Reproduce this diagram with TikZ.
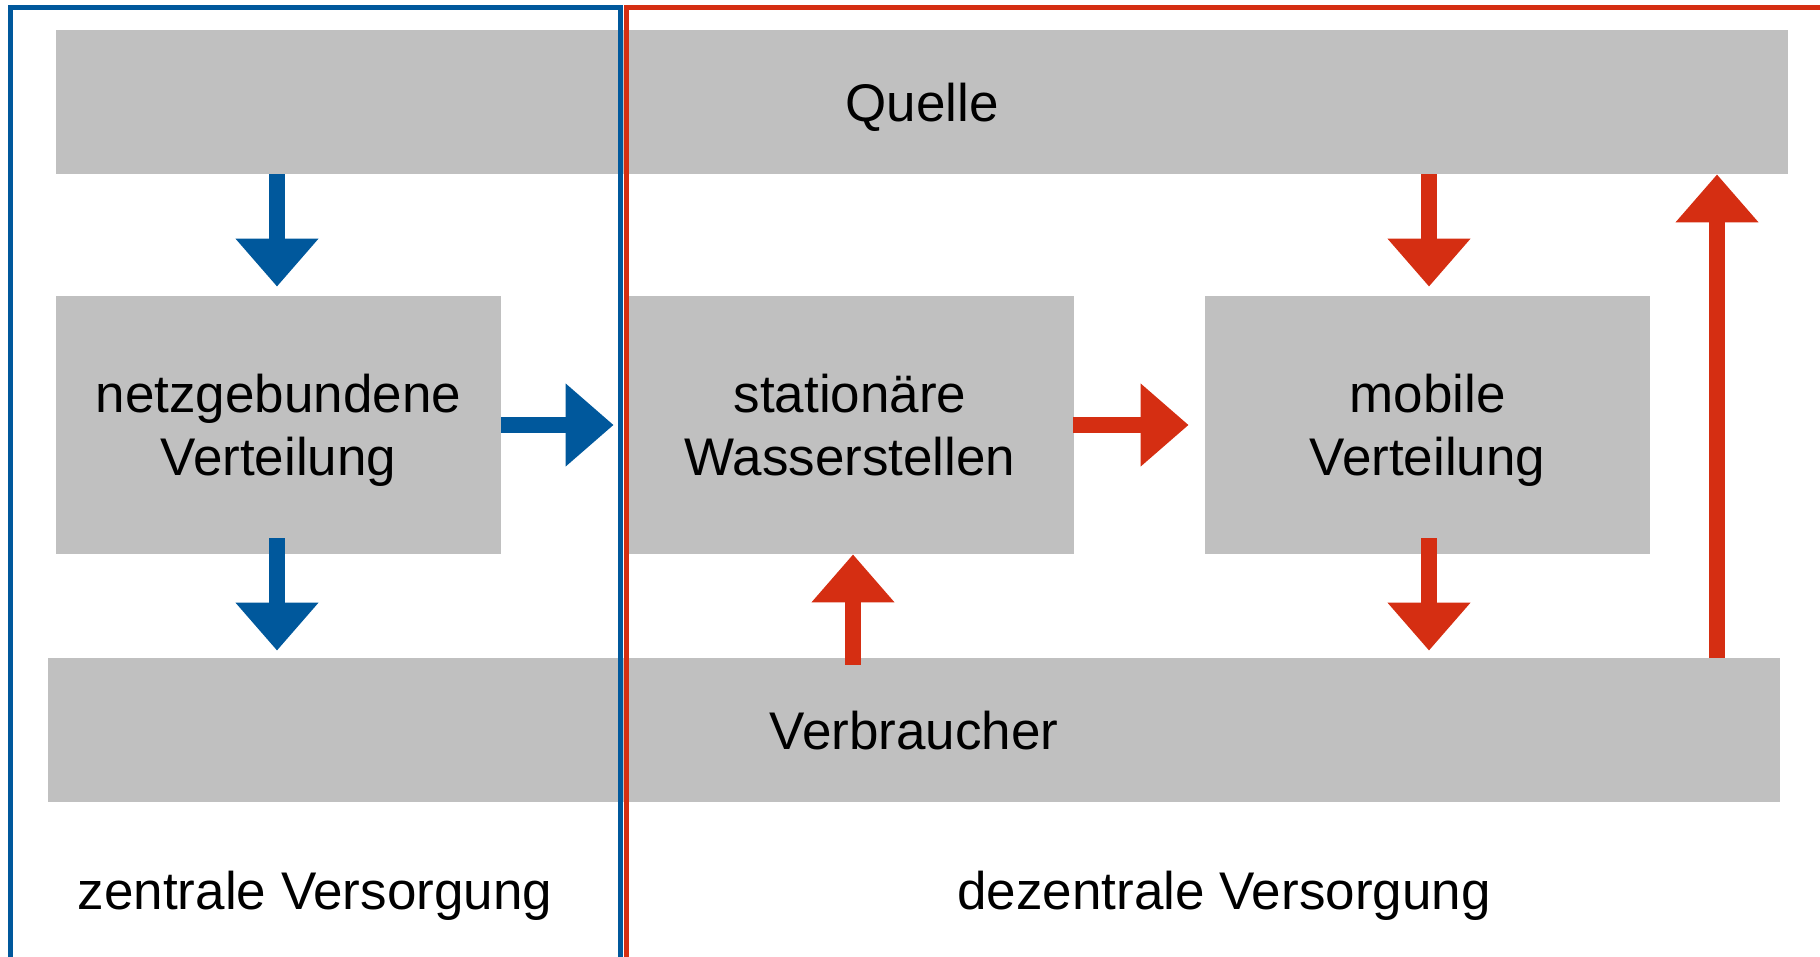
\documentclass[tikz,border=0pt]{standalone}
\usepackage{fontspec}
\setmainfont{Liberation Sans}
\usetikzlibrary{arrows.meta}
\definecolor{boxgray}{RGB}{192,192,192}
\definecolor{dblue}{RGB}{0,88,156}
\definecolor{dred}{RGB}{213,46,18}
\begin{document}
\begin{tikzpicture}[x=0.5pt,y=-0.5pt,
  box/.style={fill=boxgray, inner sep=0pt, align=center, text depth=0pt,
    font=\fontsize{26.5}{31.5}\selectfont},
  widebox/.style={box, minimum width=866pt, minimum height=72pt},
  midbox/.style={box, minimum height=129pt},
  lbl/.style={inner sep=0pt, anchor=base, font=\fontsize{26.5}{31.5}\selectfont},
  blk/.style={line width=7.75pt, -{Triangle[width=40pt,length=24pt]}},
  barrow/.style={blk, draw=dblue},
  rarrow/.style={blk, draw=dred},
  frame/.style={line width=2.5pt}]
\clip (0,0) rectangle (1820,957);
% boxes
\node[widebox] (quelle) at (922,102) {Quelle};
\node[midbox, minimum width=222.5pt] (netz) at (278.5,425) {netzgebundene\\Verteilung};
\node[midbox, minimum width=224pt] (stat) at (850,425) {stationäre\\Wasserstellen};
\node[midbox, minimum width=222.5pt] (mobil) at (1427.5,425) {mobile\\Verteilung};
\node[widebox] (verb) at (914,730) {Verbraucher};
% labels
\node[lbl] (zentral) at (315,909) {zentrale Versorgung};
\node[lbl] (dezentral) at (1224,909) {dezentrale Versorgung};
\coordinate (bx) at (277,0);
\coordinate (sx) at (853,0);
\coordinate (mx) at (1429,0);
\coordinate (rx) at (1717,0);
% blue arrows
\draw[barrow, shorten >=4.5pt] (quelle.south -| bx) -- (netz.north -| bx);
\draw[barrow, shorten <=-8pt, shorten >=3.5pt] (netz.south -| bx) -- (verb.north -| bx);
\draw[barrow, shorten >=6pt] (netz.east) -- (stat.west);
% red arrows
\draw[rarrow, shorten >=4.5pt] (quelle.south -| mx) -- (mobil.north -| mx);
\draw[rarrow, shorten <=-8pt, shorten >=3.5pt] (mobil.south -| mx) -- (verb.north -| mx);
\draw[rarrow, shorten <=-0.5pt, shorten >=8pt] (stat.east) -- (mobil.west);
\draw[rarrow, shorten <=-3.5pt] (verb.north -| sx) -- (stat.south -| sx);
\draw[rarrow] (verb.north -| rx) -- (quelle.south -| rx);
% frames
\draw[frame, dblue] (620.8,990) -- (620.8,7.5) -- (10.5,7.5) -- (10.5,990);
\draw[frame, dred] (1860,7.5) -- (626.2,7.5) -- (626.2,990);
\end{tikzpicture}
\end{document}
